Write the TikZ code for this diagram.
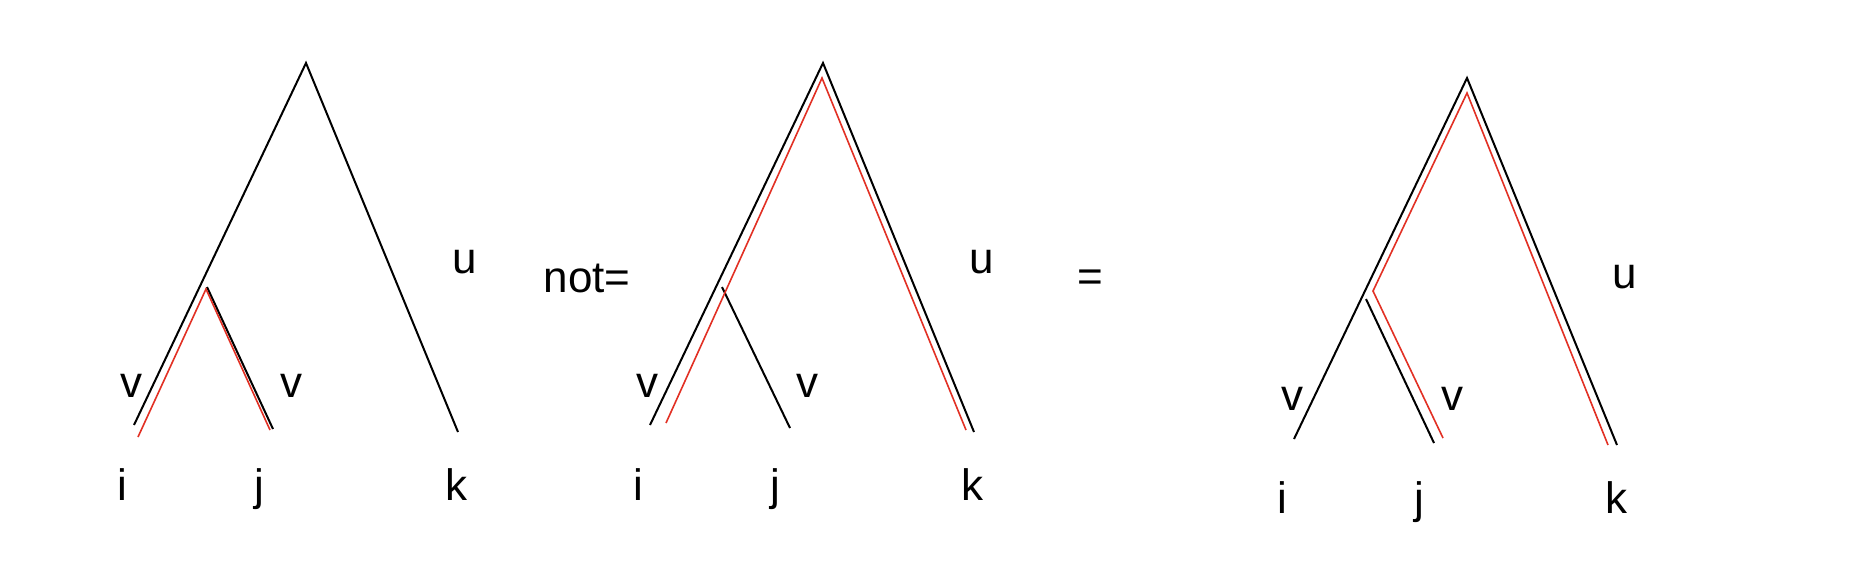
\documentclass[tikz,border=0pt]{standalone}
\usepackage{fontspec}
\setmainfont{Liberation Sans}
\definecolor{pathred}{RGB}{226,48,36}
\begin{document}
\begin{tikzpicture}[x=0.5pt,y=-0.5pt,
  edge/.style={draw=black,line width=1pt,line join=miter},
  rededge/.style={draw=pathred,line width=0.8pt,line join=miter},
  lab/.style={anchor=base,inner sep=0pt,font=\fontsize{22}{26}\selectfont}]
\useasboundingbox[fill=white] (0,0) rectangle (1852,574);

% ---------- panel 1 ----------
\coordinate (a1top) at (306,63);
\coordinate (a1i) at (134,425);
\coordinate (a1k) at (458,432);
\coordinate (a1v) at (207,287);
\coordinate (a1j) at (273,429);
\coordinate (r1i) at (138,437);
\coordinate (r1v) at (206,289);
\coordinate (r1j) at (270,430);
\draw[edge] (a1i) -- (a1top) -- (a1k);
\draw[edge] (a1v) -- (a1j);
\draw[rededge] (r1i) -- (r1v) -- (r1j);
\node[lab] (v1a) at (131,397) {v};
\node[lab] (v1b) at (291,397) {v};
\node[lab] (u1) at (465,273) {u};
\node[lab] (i1) at (122,500) {i};
\node[lab] (j1) at (259,500) {j};
\node[lab] (k1) at (456,500) {k};

\node[lab] (noteq) at (587,292) {not=};

% ---------- panel 2 ----------
\coordinate (a2top) at (823,63);
\coordinate (a2i) at (650,425);
\coordinate (a2k) at (974,432);
\coordinate (a2v) at (722,287);
\coordinate (a2j) at (790,428);
\coordinate (r2i) at (666,423);
\coordinate (r2top) at (822,78);
\coordinate (r2k) at (966,430);
\draw[edge] (a2i) -- (a2top) -- (a2k);
\draw[edge] (a2v) -- (a2j);
\draw[rededge] (r2i) -- (r2top) -- (r2k);
\node[lab] (v2a) at (647,397) {v};
\node[lab] (v2b) at (807,397) {v};
\node[lab] (u2) at (982,273) {u};
\node[lab] (i2) at (638,500) {i};
\node[lab] (j2) at (775,500) {j};
\node[lab] (k2) at (972,500) {k};

\node[lab] (eq) at (1090,291) {=};

% ---------- panel 3 ----------
\coordinate (a3top) at (1467,78);
\coordinate (a3i) at (1294,439);
\coordinate (a3k) at (1617,445);
\coordinate (a3v) at (1366,299);
\coordinate (a3j) at (1434,443);
\coordinate (r3j) at (1443,438);
\coordinate (r3v) at (1373,291);
\coordinate (r3top) at (1467,93);
\coordinate (r3k) at (1608,445);
\draw[edge] (a3i) -- (a3top) -- (a3k);
\draw[edge] (a3v) -- (a3j);
\draw[rededge] (r3j) -- (r3v) -- (r3top) -- (r3k);
\node[lab] (v3a) at (1292,410) {v};
\node[lab] (v3b) at (1452,410) {v};
\node[lab] (u3) at (1625,288) {u};
\node[lab] (i3) at (1282,513) {i};
\node[lab] (j3) at (1419,513) {j};
\node[lab] (k3) at (1616,513) {k};
\end{tikzpicture}
\end{document}
